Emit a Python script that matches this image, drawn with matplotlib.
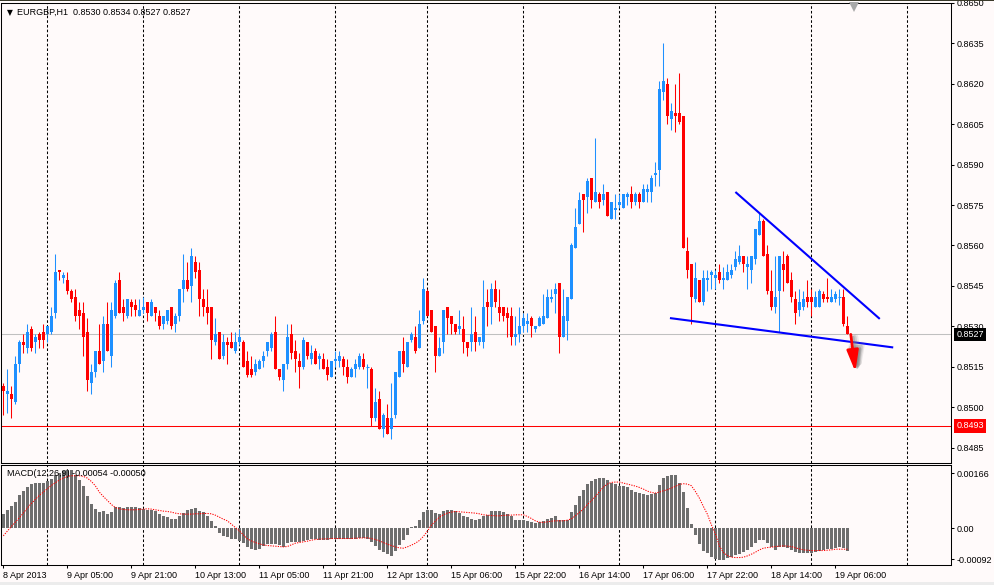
import matplotlib
matplotlib.use("Agg")
import matplotlib.pyplot as plt
import matplotlib.transforms as mtransforms
import numpy as np

plt.rcParams["font.family"] = ["Liberation Sans", "DejaVu Sans"]

# ---- data (EURGBP H1) ----
opens = [
    0.8508, 0.8505, 0.8505, 0.8502, 0.8516, 0.8524, 0.8522, 0.8529, 0.8524, 0.8527,
    0.8528, 0.8527, 0.8528, 0.8535, 0.8551, 0.8548, 0.8547, 0.8543, 0.8541, 0.8536,
    0.8535, 0.8528, 0.8509, 0.8513, 0.8521, 0.8517, 0.8531, 0.8519, 0.8534, 0.8547,
    0.8537, 0.8534, 0.8539, 0.8538, 0.8534, 0.8536, 0.8539, 0.8534, 0.8537, 0.8534,
    0.8531, 0.8532, 0.8537, 0.8531, 0.8534, 0.8544, 0.8547, 0.8545, 0.8554, 0.8551,
    0.8540, 0.8537, 0.8537, 0.8524, 0.8528, 0.8519, 0.8524, 0.8524, 0.8521, 0.8524,
    0.8524, 0.8517, 0.8514, 0.8513, 0.8514, 0.8517, 0.8521, 0.8522, 0.8528, 0.8514,
    0.8510, 0.8516, 0.8527, 0.8521, 0.8517, 0.8515, 0.8524, 0.8518, 0.8521, 0.8518,
    0.8518, 0.8515, 0.8511, 0.8517, 0.8517, 0.8518, 0.8515, 0.8511, 0.8514, 0.8515,
    0.8518, 0.8515, 0.8514, 0.8496, 0.8503, 0.8492, 0.8496, 0.8492, 0.8497, 0.8511,
    0.8521, 0.8515, 0.8525, 0.8526, 0.8522, 0.8532, 0.8543, 0.8536, 0.8530, 0.8519,
    0.8524, 0.8537, 0.8534, 0.8531, 0.8529, 0.8529, 0.8524, 0.8524, 0.8528, 0.8524,
    0.8524, 0.8539, 0.8537, 0.8544, 0.8537, 0.8537, 0.8535, 0.8534, 0.8526, 0.8527,
    0.8530, 0.8531, 0.8533, 0.8529, 0.8530, 0.8531, 0.8533, 0.8540, 0.8542, 0.8546,
    0.8526, 0.8532, 0.8540, 0.8559, 0.8568, 0.8579, 0.8578, 0.8585, 0.8576, 0.8579,
    0.8577, 0.8580, 0.8570, 0.8573, 0.8575, 0.8574, 0.8578, 0.8579, 0.8576, 0.8579,
    0.8576, 0.8580, 0.8580, 0.8586, 0.8588, 0.8617, 0.8620, 0.8607, 0.8609, 0.8609,
    0.8608, 0.8558, 0.8553, 0.8540, 0.8547, 0.8539, 0.8547, 0.8549, 0.8548, 0.8550,
    0.8547, 0.8547, 0.8549, 0.8552, 0.8554, 0.8556, 0.8552, 0.8551, 0.8555, 0.8564,
    0.8569, 0.8557, 0.8543, 0.8537, 0.8543, 0.8553, 0.8556, 0.8547, 0.8540, 0.8536,
    0.8537, 0.8541, 0.8541, 0.8537, 0.8537, 0.8542, 0.8541, 0.8539, 0.8540, 0.8541,
    0.8541, 0.8530,
]
highs = [
    0.8509, 0.8514, 0.8508, 0.8519, 0.8525, 0.8527, 0.8531, 0.8530, 0.8527, 0.8528,
    0.8531, 0.8530, 0.8537, 0.8557, 0.8551, 0.8550, 0.8550, 0.8544, 0.8544, 0.8539,
    0.8539, 0.8533, 0.8516, 0.8521, 0.8531, 0.8534, 0.8539, 0.8539, 0.8547, 0.8550,
    0.8540, 0.8540, 0.8540, 0.8540, 0.8540, 0.8541, 0.8539, 0.8540, 0.8537, 0.8536,
    0.8534, 0.8536, 0.8537, 0.8535, 0.8544, 0.8557, 0.8554, 0.8559, 0.8556, 0.8554,
    0.8544, 0.8544, 0.8537, 0.8533, 0.8528, 0.8527, 0.8526, 0.8528, 0.8528, 0.8529,
    0.8525, 0.8521, 0.8519, 0.8518, 0.8518, 0.8521, 0.8524, 0.8528, 0.8534, 0.8514,
    0.8516, 0.8531, 0.8531, 0.8525, 0.8520, 0.8526, 0.8524, 0.8523, 0.8522, 0.8520,
    0.8520, 0.8518, 0.8517, 0.8521, 0.8521, 0.8519, 0.8518, 0.8515, 0.8518, 0.8520,
    0.8520, 0.8516, 0.8515, 0.8507, 0.8506, 0.8498, 0.8501, 0.8509, 0.8513, 0.8521,
    0.8526, 0.8524, 0.8528, 0.8530, 0.8536, 0.8548, 0.8544, 0.8536, 0.8530, 0.8526,
    0.8536, 0.8537, 0.8534, 0.8531, 0.8536, 0.8534, 0.8524, 0.8537, 0.8534, 0.8526,
    0.8547, 0.8544, 0.8546, 0.8547, 0.8544, 0.8537, 0.8537, 0.8537, 0.8534, 0.8537,
    0.8535, 0.8535, 0.8534, 0.8530, 0.8534, 0.8542, 0.8544, 0.8544, 0.8546, 0.8546,
    0.8544, 0.8541, 0.8561, 0.8574, 0.8580, 0.8579, 0.8585, 0.8585, 0.8600, 0.8580,
    0.8583, 0.8580, 0.8576, 0.8579, 0.8579, 0.8579, 0.8580, 0.8582, 0.8580, 0.8580,
    0.8583, 0.8583, 0.8586, 0.8591, 0.8621, 0.8635, 0.8622, 0.8613, 0.8620, 0.8624,
    0.8608, 0.8563, 0.8553, 0.8554, 0.8547, 0.8551, 0.8551, 0.8551, 0.8551, 0.8553,
    0.8552, 0.8553, 0.8553, 0.8558, 0.8560, 0.8556, 0.8556, 0.8556, 0.8566, 0.8572,
    0.8570, 0.8560, 0.8551, 0.8556, 0.8556, 0.8558, 0.8557, 0.8550, 0.8543, 0.8544,
    0.8543, 0.8547, 0.8544, 0.8543, 0.8544, 0.8543, 0.8548, 0.8544, 0.8543, 0.8544,
    0.8544, 0.8534,
]
lows = [
    0.8497, 0.8498, 0.8496, 0.8501, 0.8513, 0.8520, 0.8520, 0.8521, 0.8520, 0.8522,
    0.8522, 0.8524, 0.8527, 0.8533, 0.8547, 0.8546, 0.8542, 0.8539, 0.8532, 0.8529,
    0.8519, 0.8506, 0.8505, 0.8511, 0.8516, 0.8513, 0.8521, 0.8515, 0.8533, 0.8535,
    0.8532, 0.8533, 0.8534, 0.8534, 0.8534, 0.8535, 0.8532, 0.8534, 0.8532, 0.8529,
    0.8529, 0.8531, 0.8529, 0.8528, 0.8532, 0.8539, 0.8543, 0.8539, 0.8548, 0.8534,
    0.8534, 0.8531, 0.8518, 0.8523, 0.8518, 0.8518, 0.8516, 0.8522, 0.8520, 0.8523,
    0.8515, 0.8511, 0.8511, 0.8512, 0.8514, 0.8515, 0.8519, 0.8521, 0.8514, 0.8510,
    0.8506, 0.8514, 0.8518, 0.8513, 0.8507, 0.8514, 0.8518, 0.8516, 0.8516, 0.8514,
    0.8514, 0.8510, 0.8511, 0.8515, 0.8515, 0.8512, 0.8509, 0.8511, 0.8511, 0.8514,
    0.8514, 0.8507, 0.8493, 0.8495, 0.8492, 0.8489, 0.8490, 0.8488, 0.8496, 0.8511,
    0.8513, 0.8515, 0.8524, 0.8520, 0.8522, 0.8531, 0.8534, 0.8528, 0.8513, 0.8519,
    0.8520, 0.8527, 0.8527, 0.8527, 0.8527, 0.8520, 0.8519, 0.8521, 0.8521, 0.8523,
    0.8522, 0.8530, 0.8531, 0.8537, 0.8532, 0.8532, 0.8526, 0.8523, 0.8523, 0.8524,
    0.8528, 0.8528, 0.8526, 0.8528, 0.8530, 0.8531, 0.8533, 0.8539, 0.8535, 0.8520,
    0.8526, 0.8525, 0.8540, 0.8559, 0.8568, 0.8565, 0.8572, 0.8574, 0.8576, 0.8574,
    0.8575, 0.8571, 0.8570, 0.8570, 0.8574, 0.8574, 0.8575, 0.8574, 0.8575, 0.8574,
    0.8576, 0.8576, 0.8576, 0.8582, 0.8582, 0.8614, 0.8605, 0.8603, 0.8602, 0.8605,
    0.8559, 0.8548, 0.8531, 0.8539, 0.8539, 0.8538, 0.8543, 0.8544, 0.8544, 0.8546,
    0.8544, 0.8547, 0.8548, 0.8551, 0.8553, 0.8550, 0.8544, 0.8546, 0.8553, 0.8564,
    0.8556, 0.8542, 0.8536, 0.8535, 0.8528, 0.8543, 0.8546, 0.8539, 0.8531, 0.8534,
    0.8536, 0.8537, 0.8534, 0.8537, 0.8537, 0.8539, 0.8539, 0.8539, 0.8539, 0.8538,
    0.8530, 0.8527,
]
closes = [
    0.8506, 0.8506, 0.8503, 0.8516, 0.8524, 0.8523, 0.8528, 0.8522, 0.8526, 0.8525,
    0.8525, 0.8530, 0.8534, 0.8550, 0.8550, 0.8549, 0.8543, 0.8540, 0.8534, 0.8534,
    0.8526, 0.8510, 0.8513, 0.8521, 0.8516, 0.8531, 0.8521, 0.8536, 0.8546, 0.8535,
    0.8535, 0.8540, 0.8537, 0.8536, 0.8536, 0.8537, 0.8535, 0.8539, 0.8535, 0.8530,
    0.8534, 0.8536, 0.8530, 0.8534, 0.8544, 0.8547, 0.8544, 0.8556, 0.8550, 0.8540,
    0.8537, 0.8535, 0.8525, 0.8527, 0.8518, 0.8524, 0.8523, 0.8522, 0.8524, 0.8526,
    0.8515, 0.8512, 0.8512, 0.8516, 0.8517, 0.8519, 0.8524, 0.8527, 0.8514, 0.8511,
    0.8516, 0.8526, 0.8520, 0.8518, 0.8515, 0.8525, 0.8519, 0.8520, 0.8516, 0.8519,
    0.8514, 0.8512, 0.8517, 0.8518, 0.8519, 0.8515, 0.8511, 0.8514, 0.8516, 0.8519,
    0.8515, 0.8515, 0.8496, 0.8502, 0.8492, 0.8497, 0.8490, 0.8496, 0.8513, 0.8521,
    0.8516, 0.8524, 0.8527, 0.8521, 0.8531, 0.8544, 0.8534, 0.8528, 0.8519, 0.8522,
    0.8536, 0.8533, 0.8531, 0.8528, 0.8530, 0.8524, 0.8522, 0.8527, 0.8524, 0.8526,
    0.8537, 0.8537, 0.8544, 0.8539, 0.8535, 0.8534, 0.8533, 0.8526, 0.8527, 0.8530,
    0.8533, 0.8532, 0.8530, 0.8530, 0.8533, 0.8534, 0.8541, 0.8541, 0.8544, 0.8526,
    0.8534, 0.8541, 0.8560, 0.8567, 0.8577, 0.8577, 0.8584, 0.8577, 0.8580, 0.8576,
    0.8579, 0.8571, 0.8576, 0.8574, 0.8576, 0.8579, 0.8579, 0.8576, 0.8579, 0.8576,
    0.8581, 0.8581, 0.8585, 0.8587, 0.8618, 0.8621, 0.8608, 0.8610, 0.8608, 0.8606,
    0.8559, 0.8551, 0.8541, 0.8548, 0.8539, 0.8548, 0.8548, 0.8550, 0.8549, 0.8547,
    0.8548, 0.8550, 0.8551, 0.8555, 0.8556, 0.8553, 0.8553, 0.8556, 0.8566, 0.8569,
    0.8556, 0.8543, 0.8537, 0.8541, 0.8556, 0.8551, 0.8546, 0.8541, 0.8535, 0.8539,
    0.8540, 0.8539, 0.8539, 0.8541, 0.8543, 0.8540, 0.8540, 0.8541, 0.8542, 0.8541,
    0.8531, 0.8527,
]

# MACD(12,26,9) main histogram and signal, in units of 1e-5
macd_main = [
    44, 56, 66, 80, 101, 113, 124, 132, 137, 137,
    137, 142, 148, 161, 166, 173, 176, 176, 159, 146,
    126, 98, 73, 58, 48, 51, 44, 49, 63, 63,
    61, 63, 63, 63, 61, 58, 54, 54, 51, 43,
    38, 33, 28, 28, 36, 46, 56, 58, 61, 51,
    48, 38, 21, 8, -12, -22, -26, -32, -32, -37,
    -44, -54, -60, -64, -60, -52, -46, -46, -46, -49,
    -54, -42, -39, -39, -39, -36, -34, -31, -31, -34,
    -34, -34, -32, -30, -30, -30, -30, -30, -30, -29,
    -29, -32, -40, -52, -64, -70, -76, -82, -66, -50,
    -34, -19, 3, 8, 24, 48, 56, 56, 46, 44,
    53, 56, 56, 53, 46, 38, 34, 28, 26, 28,
    36, 41, 51, 53, 51, 48, 44, 36, 26, 24,
    24, 21, 18, 16, 18, 21, 28, 31, 38, 26,
    24, 24, 48, 71, 96, 116, 134, 141, 148, 150,
    151, 144, 136, 133, 128, 126, 123, 114, 109, 106,
    103, 101, 102, 106, 131, 151, 158, 160, 161, 136,
    108, 61, 14, -19, -46, -66, -74, -86, -90, -94,
    -94, -89, -84, -79, -76, -69, -64, -56, -44, -34,
    -34, -44, -56, -64, -56, -56, -59, -64, -69, -72,
    -72, -72, -72, -69, -66, -64, -62, -60, -58, -56,
    -59, -66,
]
macd_signal = [
    -22, -8, 6, 19, 32, 46, 61, 75, 87, 99,
    109, 119, 129, 137, 145, 151, 156, 158, 158, 158,
    156, 151, 141, 128, 109, 96, 84, 72, 63, 59,
    57, 56, 56, 56, 57, 58, 59, 58, 56, 54,
    52, 51, 49, 46, 44, 43, 43, 43, 44, 44,
    45, 45, 44, 40, 34, 28, 23, 13, 3, -7,
    -19, -31, -37, -42, -46, -49, -51, -52, -53, -54,
    -55, -54, -49, -44, -42, -40, -38, -35, -33, -32,
    -31, -31, -30, -30, -30, -30, -30, -30, -29, -29,
    -28, -28, -30, -33, -37, -42, -47, -51, -55, -58,
    -59, -55, -50, -44, -36, -24, -8, 10, 22, 34,
    41, 46, 49, 51, 50, 49, 48, 47, 46, 44,
    41, 40, 39, 38, 38, 39, 40, 40, 41, 41,
    41, 36, 30, 23, 19, 18, 20, 22, 23, 23,
    23, 25, 29, 38, 48, 58, 72, 83, 96, 110,
    124, 133, 138, 139, 139, 136, 133, 130, 127, 123,
    118, 112, 108, 106, 109, 113, 116, 121, 126, 132,
    134, 133, 128, 111, 91, 66, 43, 11, -16, -52,
    -72, -81, -86, -87, -87, -86, -82, -77, -71, -64,
    -59, -57, -56, -54, -53, -52, -53, -54, -58, -61,
    -64, -65, -66, -66, -66, -66, -65, -64, -62, -62,
    -62, -62,
]

time_labels = [
    "8 Apr 2013", "9 Apr 05:00", "9 Apr 21:00", "10 Apr 13:00", "11 Apr 05:00",
    "11 Apr 21:00", "12 Apr 13:00", "15 Apr 06:00", "15 Apr 22:00", "16 Apr 14:00",
    "17 Apr 06:00", "17 Apr 22:00", "18 Apr 14:00", "19 Apr 06:00",
]
label_bars = [0, 16, 32, 48, 64, 80, 96, 112, 128, 144, 160, 176, 192, 208]
day_bars = [11, 35, 59, 83, 106, 130, 154, 178, 202, 226]

price_ticks = [0.8485, 0.8500, 0.8515, 0.8530, 0.8545, 0.8560,
               0.8575, 0.8590, 0.8605, 0.8620, 0.8635, 0.8650]
macd_ticks = [0.00166, 0.0, -0.00092]
macd_tick_labels = ["0.00166", "0.00", "-0.00092"]

bid_price = 0.8527
support_price = 0.8493

# drawn objects: (bar index, price)
upper_trend = ([183.2, 218.9], [0.85796, 0.85330])
lower_trend = ([166.9, 222.2], [0.85330, 0.85222])
arrow_from = (211.85, 0.85270)
arrow_to = (213.0, 0.85131)
shift_bar = 212.7

BG = "#FFFAFA"
BULL = "#1E90FF"
BEAR = "#FF0000"
W, H = 994, 585


def fx(px):
    return px / W


def fy(py):
    return 1 - py / H


o = np.array(opens)
h = np.array(highs)
lo = np.array(lows)
c = np.array(closes)
x = np.arange(len(c))
main = np.array(macd_main) * 1e-5
signal = np.array(macd_signal) * 1e-5

fig = plt.figure(figsize=(W / 100, H / 100), dpi=100)
fig.patch.set_facecolor(BG)
fig.patches.append(plt.Rectangle((0, 0), 1, fy(582), transform=fig.transFigure,
                                 facecolor="#ECECEC", edgecolor="none", zorder=0))
fig.patches.append(plt.Rectangle((0, fy(1)), 1, fy(0) - fy(1), transform=fig.transFigure,
                                 facecolor="#3A3A2A", edgecolor="none", zorder=0))

ax = fig.add_axes([fx(1), fy(462.7), fx(951) - fx(1), fy(3) - fy(462.7)])
axm = fig.add_axes([fx(1), fy(565), fx(951) - fx(1), fy(464.7) - fy(565)], sharex=ax)

for a in (ax, axm):
    a.set_facecolor(BG)
    for s in a.spines.values():
        s.set_linewidth(0.75)
        s.set_color("black")
    for g in day_bars:
        a.axvline(g, color="black", lw=0.75, ls=(0, (2.5, 2)), zorder=1)

# candles
up = c >= o
colors = np.where(up, BULL, BEAR)
ax.vlines(x, lo, h, colors=colors, lw=0.75, zorder=3)
body = np.abs(c - o)
doji = body < 0.00005
ax.bar(x[~doji], body[~doji], bottom=np.minimum(o, c)[~doji], width=0.75,
       color=colors[~doji], lw=0, zorder=3)
ax.hlines(c[doji], x[doji] - 0.45, x[doji] + 0.45, colors=colors[doji], lw=0.75, zorder=3)

ax.axhline(bid_price, color="#C0C0C0", lw=0.75, zorder=2)
ax.axhline(support_price, color="red", lw=0.75, zorder=2)

ax.plot(*upper_trend, color="#0000FF", lw=1.5, zorder=4)
ax.plot(*lower_trend, color="#0000FF", lw=1.5, zorder=4)

# arrow with soft shadow
for dx, alpha, lw in [(1.2, 0.15, 4.0), (0.9, 0.25, 3.0), (0.6, 0.35, 2.0)]:
    ax.annotate("", xy=(arrow_to[0] + dx, arrow_to[1]), xytext=(arrow_from[0] + dx, arrow_from[1] - 0.00010),
                arrowprops=dict(arrowstyle="-|>,head_length=0.9,head_width=0.28", color="#808080",
                                lw=lw, alpha=alpha, mutation_scale=14, shrinkA=0, shrinkB=0), zorder=4)
ax.annotate("", xy=arrow_to, xytext=arrow_from,
            arrowprops=dict(arrowstyle="-|>,head_length=0.9,head_width=0.25", color="red",
                            lw=2.0, mutation_scale=14, shrinkA=0, shrinkB=0), zorder=5)

ax.set_xlim(-0.575, 236.9)
ax.set_ylim(0.847937, 0.864963)
ax.yaxis.tick_right()
ax.set_yticks(price_ticks)
ax.set_yticklabels([f"{p:.4f}" for p in price_ticks])
ax.tick_params(axis="y", direction="out", length=2.2, width=0.75, pad=1.5, labelsize=6.5)
ax.tick_params(axis="x", bottom=False, labelbottom=False)

# chart shift marker just under the top border
ax.plot([shift_bar], [0.86487], marker="v", color="#A8A8A8", ms=7, mew=0, clip_on=False, zorder=5)

# price boxes on the scale
blend = mtransforms.blended_transform_factory(ax.transAxes, ax.transData)
ax.text(1.0055, bid_price, f"{bid_price:.4f}", transform=blend, ha="left", va="center",
        color="white", fontsize=6.5, clip_on=False, zorder=10,
        bbox=dict(boxstyle="square,pad=0.25", fc="black", ec="none"))
ax.text(1.0055, support_price, f"{support_price:.4f}", transform=blend, ha="left", va="center",
        color="white", fontsize=6.5, clip_on=False, zorder=10,
        bbox=dict(boxstyle="square,pad=0.25", fc="red", ec="none"))

ax.text(0.006, 0.979, "\u25bc", transform=ax.transAxes, fontsize=5.5, va="center", ha="left",
        family=["DejaVu Sans"])
ax.text(0.017, 0.979, "EURGBP,H1  0.8530 0.8534 0.8527 0.8527", transform=ax.transAxes,
        fontsize=6.5, va="center", ha="left")

# MACD panel
axm.bar(x, main, width=0.75, color="#6E6E6E", lw=0, zorder=2)
axm.plot(x, signal, color="red", lw=0.75, ls=(0, (1.2, 1.2)), zorder=3)
axm.set_ylim(-0.001093, 0.00191)
axm.yaxis.tick_right()
axm.set_yticks(macd_ticks)
axm.set_yticklabels(macd_tick_labels)
axm.tick_params(axis="y", direction="out", length=2.2, width=0.75, pad=1.5, labelsize=6.5)
axm.set_xticks(label_bars)
axm.set_xticklabels(time_labels)
axm.tick_params(axis="x", direction="out", length=2.2, width=0.75, pad=2, labelsize=6.5)
for lbl in axm.get_xticklabels():
    lbl.set_ha("left")
axm.text(0.006, 0.91, "MACD(12,26,9) -0.00054 -0.00050", transform=axm.transAxes,
         fontsize=6.5, va="center", ha="left")

fig.savefig("out.png", dpi=100, facecolor=fig.get_facecolor())
